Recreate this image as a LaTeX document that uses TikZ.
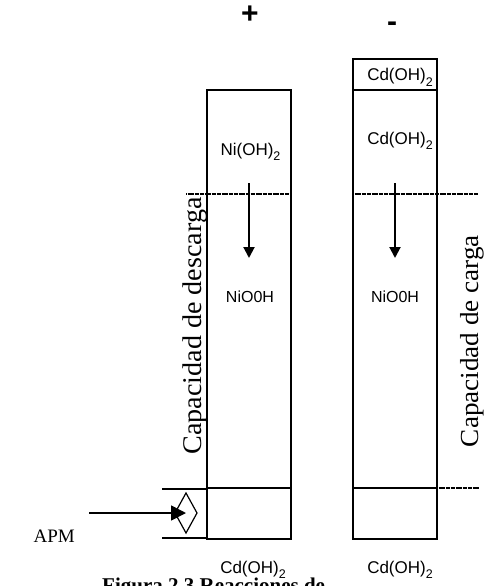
\documentclass[tikz,border=0pt]{standalone}
\usepackage{fontspec}
\usepackage{graphicx}
\newfontfamily\arialf{Liberation Sans}
\newfontfamily\timesf{Liberation Serif}
\usetikzlibrary{arrows.meta}
\newcommand\subtwo{\raisebox{-0.32em}{\fontsize{12.5}{14}\selectfont 2}}
\tikzset{
  boxline/.style={draw=black, line width=1.1pt},
  divline/.style={draw=black, line width=1.1pt},
  dotline/.style={draw=black, line width=1.3pt, dash pattern=on 1.4pt off 0.3pt},
  sidebar/.style={draw=black, line width=1.6pt},
  downarr/.style={draw=black, line width=2pt, -{Triangle[length=11pt,width=11pt]}},
  apmarr/.style={draw=black, line width=1.6pt, -{Triangle[length=15pt,width=15pt]}},
  chem/.style={font=\arialf\fontsize{17}{20}\selectfont, inner sep=0pt, anchor=base},
  sign/.style={font=\arialf\bfseries\fontsize{30}{34}\selectfont, inner sep=0pt},
  vlabel/.style={rotate=90, inner sep=0pt, anchor=center},
}
\begin{document}
\begin{tikzpicture}[x=1pt,y=-1pt]
\clip (0,0) rectangle (492,586);
\fill[white] (0,0) rectangle (492,586);

% boxes
\node[boxline, minimum width=84pt, minimum height=449pt, inner sep=0pt] (pos) at (249,314.5) {};
\node[boxline, minimum width=84pt, minimum height=480pt, inner sep=0pt] (neg) at (395,299) {};

% dividers
\coordinate (ntopL) at (353,90);  \coordinate (ntopR) at (437,90);
\draw[divline] (ntopL) -- (ntopR);
\coordinate (pbotL) at (207,488); \coordinate (pbotR) at (291,488);
\draw[divline] (pbotL) -- (pbotR);
\coordinate (nbotL) at (353,488); \coordinate (nbotR) at (437,488);
\draw[divline] (nbotL) -- (nbotR);
\coordinate (nbotX) at (478,488);
\draw[dotline] (nbotR) -- (nbotX);

% dotted capacity lines
\coordinate (pdotA) at (186,194); \coordinate (pdotB) at (291,194);
\draw[dotline] (pdotA) -- (pdotB);
\coordinate (ndotA) at (353,194); \coordinate (ndotB) at (478,194);
\draw[dotline] (ndotA) -- (ndotB);

% down arrows
\coordinate (pa1) at (249,183); \coordinate (pa2) at (249,258);
\draw[downarr] (pa1) -- (pa2);
\coordinate (na1) at (395,183); \coordinate (na2) at (395,258);
\draw[downarr] (na1) -- (na2);

% APM
\coordinate (apmT1) at (162,489); \coordinate (apmT2) at (207,489);
\coordinate (apmB1) at (162,538); \coordinate (apmB2) at (207,538);
\draw[sidebar] (apmT1) -- (apmT2);
\draw[sidebar] (apmB1) -- (apmB2);
\coordinate (dT) at (186,493); \coordinate (dR) at (197,513);
\coordinate (dB) at (186,533); \coordinate (dL) at (175,513);
\draw[line width=1.2pt] (dT) -- (dR) -- (dB) -- (dL) -- cycle;
\node[font=\timesf\fontsize{19}{22}\selectfont, inner sep=0pt, anchor=base east] (apm) at (75,542) {APM};
\coordinate (apmS) at (89,513); \coordinate (apmE) at (186,513);
\draw[apmarr] (apmS) -- (apmE);

% signs
\node[sign] (plus) at (250,15) {+};
\node[sign, anchor=base] (minus) at (392,32) {-};

% chemical labels
\node[chem] (niOH) at (250.5,155) {Ni(OH)\subtwo};
\node[chem] (cdTop) at (400,81) {Cd(OH)\subtwo};
\node[chem] (cdMid) at (400,144) {Cd(OH)\subtwo};
\node[chem, font=\arialf\fontsize{16}{19}\selectfont] (nioL) at (250,302) {NiO0H};
\node[chem, font=\arialf\fontsize{16}{19}\selectfont] (nioR) at (395,302) {NiO0H};
\node[chem] (cdBotL) at (253,573) {Cd(OH)\subtwo};
\node[chem] (cdBotR) at (400,573) {Cd(OH)\subtwo};

% vertical labels
\node[vlabel] (descarga) at (195,326) {\resizebox{257pt}{\height}{\timesf\fontsize{27}{30}\selectfont Capacidad de descarga}};
\node[vlabel] (carga) at (472,341) {\resizebox{212pt}{\height}{\timesf\fontsize{26}{30}\selectfont Capacidad de carga}};

% caption (cut at the bottom edge)
\node[font=\timesf\bfseries\fontsize{21}{25}\selectfont, inner sep=0pt, anchor=base west] (caption) at (102,592) {Figura 2.3 Reacciones de};
\end{tikzpicture}
\end{document}
